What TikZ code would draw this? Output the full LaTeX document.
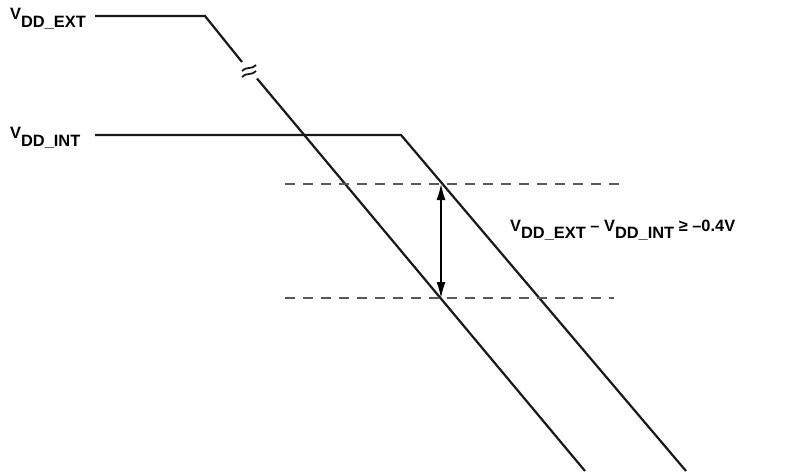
\documentclass[tikz,border=0pt]{standalone}
\usepackage{fontspec}
\setmainfont{Liberation Sans}
\usetikzlibrary{arrows.meta,positioning}
\newcommand{\vdd}[1]{\raisebox{0.45em}{V}DD\_#1}

\begin{document}
\begin{tikzpicture}[x=1pt,y=-1pt,
  sig/.style={line width=2.2pt,draw=black!90},
  brkmark/.style={line width=1.8pt,draw=black!90},
  level/.style={dashed,dash pattern=on 10pt off 8pt,line width=1.2pt,draw=black!65},
  dim/.style={{Latex[length=16pt,width=9pt]}-{Latex[length=16pt,width=9pt]},line width=1.4pt},
  lbl/.style={font=\bfseries\fontsize{16.4}{18}\selectfont,inner sep=0pt}
]
  \useasboundingbox (0,0) rectangle (791,471);
  % Labels
  \node[lbl,anchor=west] (extlbl) at (10,19) {\vdd{EXT}};
  \node[lbl,anchor=west] (intlbl) at (10,138) {\vdd{INT}};
  \node[lbl,anchor=west] (difflbl) at (510,230)
    {\vdd{EXT} \raisebox{0.45em}{–} \vdd{INT} \raisebox{0.45em}{≥ –0.4V}};
  % Supply edges
  \coordinate (extA) at (95,16);
  \coordinate (extB) at (205,16);
  \coordinate (extC) at (242,62);
  \coordinate (extD) at (257,78.5);
  \coordinate (extE) at (585,471);
  \coordinate (intA) at (95,135);
  \coordinate (intB) at (401,135);
  \coordinate (intE) at (686,471);
  \draw[sig] (extA) -- (extB) -- (extC);
  \draw[sig] (extD) -- (extE);
  \draw[sig] (intA) -- (intB) -- (intE);
  % Break mark
  \draw[brkmark] (242,71) .. controls (245.5,66.2) and (252.5,69.8) .. (256,65);
  \draw[brkmark] (242,77) .. controls (245.5,72.2) and (252.5,75.8) .. (256,71);
  % Threshold levels
  \coordinate (topL) at (285,184);
  \coordinate (topR) at (626,184);
  \coordinate (botL) at (285,298);
  \coordinate (botR) at (614,298);
  \draw[level] (topL) -- (topR);
  \draw[level] (botL) -- (botR);
  \coordinate (arrT) at (441,184);
  \coordinate (arrB) at (441,298);
  \draw[dim] (arrT) -- (arrB);
\end{tikzpicture}
\end{document}
